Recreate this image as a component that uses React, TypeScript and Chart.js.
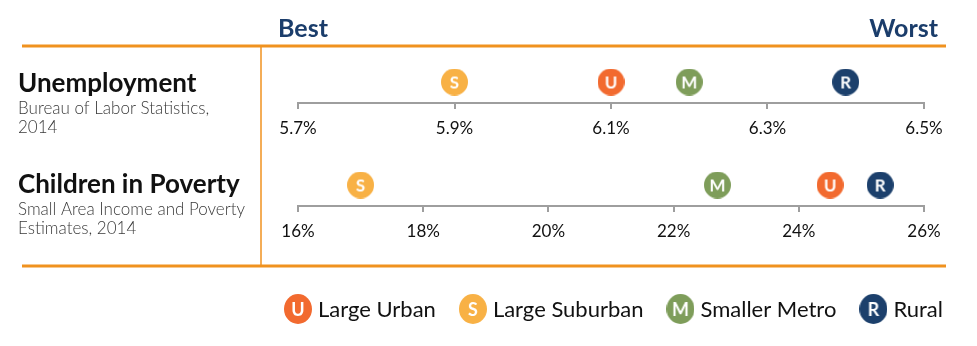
import React, { useEffect, useRef } from 'react';
import { Chart, registerables } from 'chart.js';

Chart.register(...registerables);

// ---------- data ----------
const rows = ['Unemployment', 'Children in Poverty'];
const rowSources = [
  ['Bureau of Labor Statistics,', '2014'],
  ['Small Area Income and Poverty', 'Estimates, 2014'],
];
const seriesNames = ['Large Urban', 'Large Suburban', 'Smaller Metro', 'Rural'];
const seriesLetters = ['U', 'S', 'M', 'R'];
const seriesColors = ['#F26A2F', '#F8B145', '#7E9D5A', '#1C406C'];
const unemploymentValues = [6.1, 5.9, 6.2, 6.4];
const povertyValues = [24.5, 17.0, 22.7, 25.3];
const unemploymentTicks = [5.7, 5.9, 6.1, 6.3, 6.5];
const unemploymentTickLabels = ['5.7%', '5.9%', '6.1%', '6.3%', '6.5%'];
const povertyTicks = [16, 18, 20, 22, 24, 26];
const povertyTickLabels = ['16%', '18%', '20%', '22%', '24%', '26%'];
const scaleEnds = ['Best', 'Worst'];

// ---------- style ----------
const W = 977;
const H = 346;
const ORANGE = '#F0921F';
const NAVY = '#1B3D6B';
const AXIS_GRAY = '#9E9E9E';
const FONT = 'Lato, "Open Sans", sans-serif';
const AXIS_OFFSET = 0.2;

function makeMarker(letter: string, color: string, w: number, h: number, fontSize: number) {
  const c = document.createElement('canvas');
  c.width = w;
  c.height = h;
  const ctx = c.getContext('2d')!;
  ctx.fillStyle = color;
  ctx.beginPath();
  ctx.ellipse(w / 2, h / 2, w / 2, h / 2, 0, 0, Math.PI * 2);
  ctx.fill();
  ctx.fillStyle = '#ffffff';
  ctx.font = `bold ${fontSize}px ${FONT}`;
  ctx.textAlign = 'center';
  ctx.textBaseline = 'middle';
  ctx.fillText(letter, w / 2, h / 2 + 1);
  return c;
}

function axisOptions(ticks: number[], labels: string[], row: number) {
  return {
    type: 'linear',
    axis: 'x',
    position: { y: row + AXIS_OFFSET },
    min: ticks[0],
    max: ticks[ticks.length - 1],
    afterBuildTicks: (scale: any) => {
      scale.ticks = ticks.map((v) => ({ value: v }));
    },
    ticks: {
      callback: (_v: any, i: number) => labels[i],
      font: { family: FONT, size: 17 },
      color: '#111111',
      padding: 11,
      maxRotation: 0,
      autoSkip: false,
    },
    grid: {
      display: true,
      drawOnChartArea: false,
      drawTicks: true,
      tickLength: 5,
      color: AXIS_GRAY,
      lineWidth: 2,
    },
    border: { display: true, color: AXIS_GRAY, width: 2 },
  };
}

export default function App() {
  const ref = useRef<HTMLCanvasElement | null>(null);

  useEffect(() => {
    if (!ref.current) return;
    const pointMarkers = seriesLetters.map((l, i) => makeMarker(l, seriesColors[i], 27, 27, 17));
    const legendMarkers = seriesLetters.map((l, i) => makeMarker(l, seriesColors[i], 28, 30, 18));

    const datasets: any[] = [];
    seriesNames.forEach((name, i) => {
      datasets.push({
        label: name,
        xAxisID: 'xU',
        yAxisID: 'y',
        data: [{ x: unemploymentValues[i], y: 1 }],
        pointStyle: pointMarkers[i],
        pointRadius: 14,
      });
      datasets.push({
        label: name,
        xAxisID: 'xP',
        yAxisID: 'y',
        data: [{ x: povertyValues[i], y: 2 }],
        pointStyle: pointMarkers[i],
        pointRadius: 14,
      });
    });

    const decor = {
      id: 'decor',
      beforeDatasetsDraw(chart: any) {
        const ctx = chart.ctx;
        ctx.save();
        ctx.strokeStyle = ORANGE;
        ctx.lineWidth = 3;
        ctx.beginPath();
        ctx.moveTo(22, 46);
        ctx.lineTo(946, 46);
        ctx.moveTo(22, 266);
        ctx.lineTo(946, 266);
        ctx.stroke();
        ctx.lineWidth = 1.5;
        ctx.beginPath();
        ctx.moveTo(261, 46);
        ctx.lineTo(261, 266);
        ctx.stroke();

        // Best / Worst
        ctx.fillStyle = NAVY;
        ctx.font = `bold 25px ${FONT}`;
        ctx.textBaseline = 'alphabetic';
        ctx.textAlign = 'left';
        ctx.fillText(scaleEnds[0], 278, 37);
        ctx.textAlign = 'right';
        ctx.fillText(scaleEnds[1], 938, 37);

        // Row titles
        ctx.textAlign = 'left';
        const titleBase = [92, 193];
        rows.forEach((r, i) => {
          ctx.fillStyle = '#111111';
          ctx.font = `bold 26px ${FONT}`;
          ctx.fillText(r, 18, titleBase[i]);
          ctx.fillStyle = '#3a3a3a';
          ctx.font = `300 17px ${FONT}`;
          rowSources[i].forEach((s, j) => ctx.fillText(s, 18, titleBase[i] + 22 + j * 19));
        });

        // Legend
        ctx.font = `22px ${FONT}`;
        ctx.fillStyle = '#111111';
        let x = 284;
        const cy = 309;
        seriesNames.forEach((n, i) => {
          const m = legendMarkers[i];
          ctx.drawImage(m, x, cy - m.height / 2);
          ctx.fillText(n, x + 34, 317);
          x += 34 + ctx.measureText(n).width + 23;
        });
        ctx.restore();
      },
    };

    const chart = new Chart(ref.current, {
      type: 'scatter',
      data: { datasets },
      options: {
        animation: false,
        responsive: false,
        events: [],
        layout: { padding: { left: 298, right: 53, top: 30.5, bottom: 109.5 } },
        plugins: { legend: { display: false }, tooltip: { enabled: false } },
        scales: {
          y: { type: 'linear', min: 0.5, max: 2.5, reverse: true, display: false },
          xU: axisOptions(unemploymentTicks, unemploymentTickLabels, 1),
          xP: axisOptions(povertyTicks, povertyTickLabels, 2),
        } as any,
      },
      plugins: [decor],
    });
    return () => chart.destroy();
  }, []);

  return (
    <div style={{ position: 'fixed', left: 0, top: 0, width: W, height: H, background: '#fff' }}>
      <canvas ref={ref} width={W} height={H} style={{ width: W, height: H, display: 'block' }} />
    </div>
  );
}
